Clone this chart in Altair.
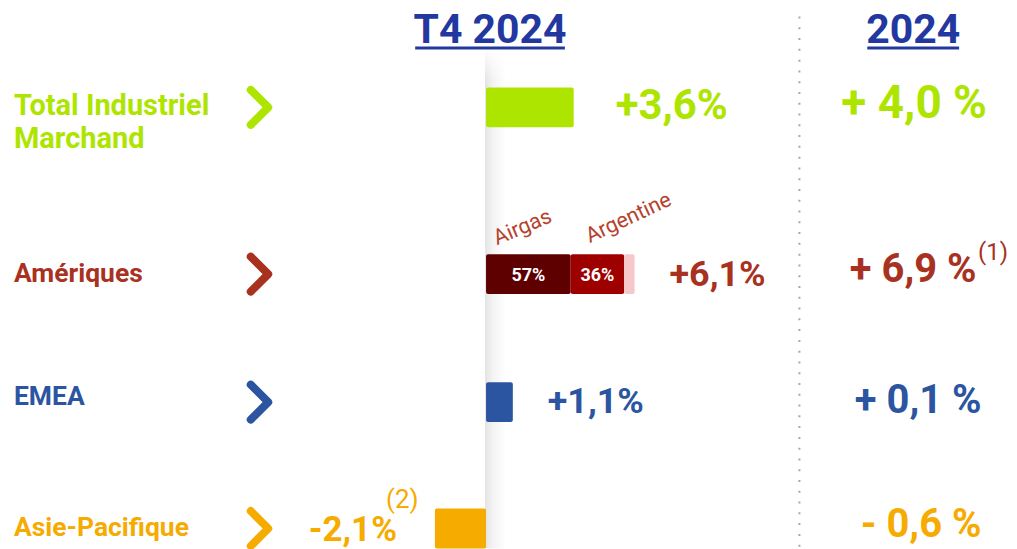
import altair as alt
import pandas as pd

# ---------------- data ----------------
regions = ["Total Industriel\nMarchand", "Amériques", "EMEA", "Asie-Pacifique"]
t4_growth = [3.6, 6.1, 1.1, -2.1]          # T4 2024, %
fy_growth = [4.0, 6.9, 0.1, -0.6]          # 2024, %
t4_notes = ["", "", "", "(2)"]
fy_notes = ["", "(1)", "", ""]
amer_parts = ["Airgas", "Argentine", "Autres"]
amer_shares = [57, 36, 7]                  # % of Amériques T4 growth
titles = ["T4 2024", "2024"]

# ---------------- styles / layout ----------------
FONT = "Roboto"
region_colors = ["#ade500", "#a8321f", "#2b55a1", "#f6ab00"]
part_colors = ["#5e0000", "#9e0000", "#f6c8ca"]
title_color = "#2238a0"
annot_color = "#b5432f"

W, H = 1001, 541
px_per_pct = 24.4
zero_px = 479
slot_step = 42.2
slot0_px = 99
slots = [0, 3.96, 7, 10]
half = 20 / slot_step

xs = alt.Scale(domain=[-zero_px / px_per_pct, (W - zero_px) / px_per_pct], nice=False, zero=False)
ys = alt.Scale(domain=[-slot0_px / slot_step, (H - slot0_px) / slot_step], reverse=True, nice=False, zero=False)


def fmt(v, spaced=False):
    s = f"{abs(v):.1f}".replace(".", ",")
    sign = "+" if v >= 0 else "-"
    return f"{sign} {s} %" if spaced else f"{sign}{s}%"


one = pd.DataFrame({"a": [0]})
BL = "alphabetic"

# ---------------- bars ----------------
rows = []
for i, (r, v) in enumerate(zip(regions, t4_growth)):
    if r == "Amériques":
        cum = 0.0
        for p, s, c in zip(amer_parts, amer_shares, part_colors):
            seg = v * s / 100
            rows.append(dict(start=cum, end=cum + seg, top=slots[i] - half,
                             bottom=slots[i] + half, color=c,
                             lab=(f"{s}%" if p != "Autres" else ""), mid=cum + seg / 2,
                             part=p, slot=slots[i]))
            cum += seg
    else:
        rows.append(dict(start=min(0, v), end=max(0, v), top=slots[i] - half,
                         bottom=slots[i] + half, color=region_colors[i], lab="",
                         mid=v / 2, part="", slot=slots[i]))
bars_df = pd.DataFrame(rows)

layers = []

# shadow at the zero line
shadow = alt.Chart(one).mark_rect(
    color=alt.Gradient(gradient="linear",
                       stops=[alt.GradientStop(color="#e3e3e3", offset=0),
                              alt.GradientStop(color="#f3f3f3", offset=0.35),
                              alt.GradientStop(color="#ffffff", offset=1)],
                       x1=0, x2=1, y1=0, y2=0)
).encode(x=alt.value(zero_px - 1), x2=alt.value(zero_px + 20), y=alt.value(42), y2=alt.value(H))
layers.append(shadow)
shadow_fade = alt.Chart(one).mark_rect(
    color=alt.Gradient(gradient="linear",
                       stops=[alt.GradientStop(color="rgba(255,255,255,1)", offset=0),
                              alt.GradientStop(color="rgba(255,255,255,0)", offset=1)],
                       x1=0, x2=0, y1=0, y2=1)
).encode(x=alt.value(zero_px - 2), x2=alt.value(zero_px + 22), y=alt.value(40), y2=alt.value(72))
layers.append(shadow_fade)

# dotted separator
sep = alt.Chart(one).mark_rule(strokeDash=[2, 8.8], strokeWidth=2, color="#a8a8a8").encode(
    x=alt.value(793), y=alt.value(8), y2=alt.value(H))
layers.append(sep)

bars = alt.Chart(bars_df).mark_rect(cornerRadius=2).encode(
    x=alt.X("start:Q", scale=xs, axis=None),
    x2="end:Q",
    y=alt.Y("top:Q", scale=ys, axis=None),
    y2="bottom:Q",
    color=alt.Color("color:N", scale=None),
)
layers.append(bars)

seg_labels = alt.Chart(bars_df[bars_df.lab != ""]).mark_text(
    font=FONT, fontWeight="bold", fontSize=18, color="white", align="center", baseline=BL, dy=7
).encode(x=alt.X("mid:Q", scale=xs), y=alt.Y("slot:Q", scale=ys), text="lab:N")
layers.append(seg_labels)

# Airgas / Argentine annotations
ann = bars_df[bars_df.lab != ""].copy()
ann_off = {"Airgas": (11, -29, 337), "Argentine": (19, -31, 335)}
for _, rw in ann.iterrows():
    xo, yo, ang = ann_off[rw.part]
    layers.append(
        alt.Chart(pd.DataFrame([dict(x=rw.start, y=rw.slot, t=rw.part)])).mark_text(
            font=FONT, fontSize=21.5, color=annot_color, align="left", baseline=BL, angle=ang,
            xOffset=xo, yOffset=yo
        ).encode(x=alt.X("x:Q", scale=xs), y=alt.Y("y:Q", scale=ys), text="t:N")
    )

# ---------------- titles ----------------
title_pos = [(483, 416 - 8, 566 - 8), (907, 869 - 8, 961 - 8)]
for t, (cx, ux1, ux2) in zip(titles, title_pos):
    layers.append(alt.Chart(pd.DataFrame({"t": [t]})).mark_text(
        font=FONT, fontWeight="bold", fontSize=41, color=title_color, align="center", baseline=BL
    ).encode(x=alt.value(cx), y=alt.value(35), text="t:N"))
    layers.append(alt.Chart(one).mark_rule(color=title_color, strokeWidth=3).encode(
        x=alt.value(ux1), x2=alt.value(ux2), y=alt.value(39.5)))

# ---------------- per-row texts ----------------
label_dy = [8, 8, 3, 8]
label_size = [29, 26.5, 26.5, 26.5]
t4_dy = [12, 12, 11, 13]
t4_dx = [42, 35, 35, -38]
t4_size = [42, 36, 36, 35]
fy_x = [908, 907, 912, 915]
fy_dy = [11, 8, 11, 9]
fy_size = [46, 40, 40, 40]

for i, r in enumerate(regions):
    c = region_colors[i]
    d = pd.DataFrame([dict(y=slots[i], v=t4_growth[i], lab=r.split("\n"),
                           t4=fmt(t4_growth[i]), fy=fmt(fy_growth[i], True),
                           n4=t4_notes[i], nf=fy_notes[i])])
    base = alt.Chart(d)
    # region label
    layers.append(base.mark_text(font=FONT, fontWeight="bold", fontSize=label_size[i], color=c,
                                 align="left", baseline=BL, dy=label_dy[i], lineHeight=33).encode(
        x=alt.value(6), y=alt.Y("y:Q", scale=ys), text="lab"))
    # chevron
    layers.append(base.mark_point(shape="M-0.5,-1L0.5,0L-0.5,1", filled=False, size=1225,
                                  strokeWidth=8, color=c, opacity=1,
                                  strokeCap="round", strokeJoin="round").encode(
        x=alt.value(252), y=alt.Y("y:Q", scale=ys)))
    # T4 value
    layers.append(base.mark_text(font=FONT, fontWeight="bold", fontSize=t4_size[i], color=c,
                                 align="left" if t4_growth[i] >= 0 else "right", baseline=BL,
                                 dx=t4_dx[i], dy=t4_dy[i]).encode(
        x=alt.X("v:Q", scale=xs), y=alt.Y("y:Q", scale=ys), text="t4:N"))
    # 2024 value
    layers.append(base.mark_text(font=FONT, fontWeight="bold", fontSize=fy_size[i], color=c,
                                 align="center", baseline=BL, dy=fy_dy[i]).encode(
        x=alt.value(fy_x[i]), y=alt.Y("y:Q", scale=ys), text="fy:N"))
    if t4_notes[i]:
        layers.append(base.mark_text(font=FONT, fontSize=26, color=c, align="left", baseline=BL,
                                     dx=-49, dy=-21).encode(
            x=alt.X("v:Q", scale=xs), y=alt.Y("y:Q", scale=ys), text="n4:N"))
    if fy_notes[i]:
        layers.append(base.mark_text(font=FONT, fontSize=24, color=c, align="left", baseline=BL,
                                     dy=-14).encode(
            x=alt.value(972), y=alt.Y("y:Q", scale=ys), text="nf:N"))

chart = alt.layer(*layers).properties(
    width=W, height=H, padding=0, background="white"
).configure_view(stroke=None)

chart.save("out.html", embed_options={"renderer": "svg", "actions": False})
